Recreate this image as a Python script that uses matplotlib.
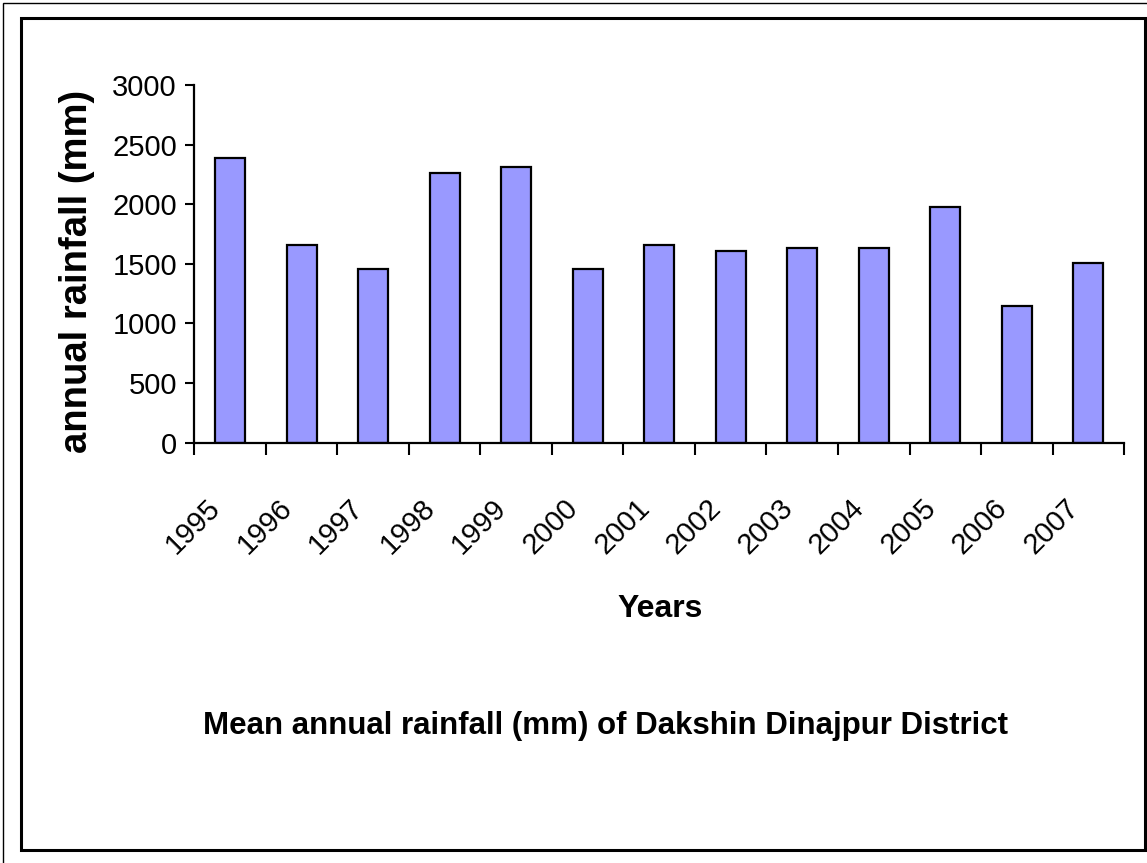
import matplotlib.pyplot as plt
import numpy as np
from matplotlib.patches import Rectangle
from matplotlib.transforms import ScaledTranslation

# Mean annual rainfall, Dakshin Dinajpur
years = ["1995", "1996", "1997", "1998", "1999", "2000", "2001",
         "2002", "2003", "2004", "2005", "2006", "2007"]
rainfall = [2390, 1660, 1460, 2265, 2315, 1460, 1660,
            1610, 1630, 1630, 1975, 1145, 1510]
yticks = [0, 500, 1000, 1500, 2000, 2500, 3000]

font = ["Liberation Sans", "DejaVu Sans"]

fig = plt.figure(figsize=(11.47, 8.63), dpi=100)
ax = fig.add_axes([0.1694, 0.487, 0.8106, 0.4145])

x = np.arange(len(years)) + 0.5
ax.bar(x, rainfall, width=0.42, color="#9999FF", edgecolor="black", linewidth=1.6)

ax.set_xlim(0, len(years))
ax.set_ylim(0, 3000)
ax.spines["top"].set_visible(False)
ax.spines["right"].set_visible(False)
ax.spines["left"].set_linewidth(1.6)
ax.spines["bottom"].set_linewidth(1.6)

# y axis
ax.set_yticks(yticks)
ax.set_yticklabels([str(v) for v in yticks], family=font, fontsize=21)
ax.tick_params(axis="y", direction="out", length=6.5, width=1.5, pad=6)

# x axis: ticks between categories, labels at centres
ax.set_xticks(np.arange(len(years) + 1))
ax.set_xticklabels([])
ax.tick_params(axis="x", which="major", direction="out", length=8.5, width=1.5)
ax.set_xticks(x, minor=True)
ax.set_xticklabels(years, minor=True, family=font, fontsize=21,
                   rotation=45, ha="right", va="center", rotation_mode="anchor")
ax.tick_params(axis="x", which="minor", length=0, pad=44)
off = ScaledTranslation(-14 / 100, 0, fig.dpi_scale_trans)
for lab in ax.get_xticklabels(minor=True):
    lab.set_transform(lab.get_transform() + off)

fig.text(0.0671, 0.686, "annual rainfall (mm)", rotation=90, ha="center", va="center",
         family=font, fontsize=27.5, fontweight="bold")
fig.text(0.5754, 0.2943, "Years", ha="center", va="center",
         family=font, fontsize=23, fontweight="bold")
fig.text(0.5275, 0.1587, "Mean annual rainfall (mm) of Dakshin Dinajpur District",
         ha="center", va="center", family=font, fontsize=22.5, fontweight="bold")

# chart frames
fig.add_artist(Rectangle((0.0026, -0.02), 1.05, 0.9965 + 0.02, transform=fig.transFigure,
                         fill=False, edgecolor="black", linewidth=1.0))
fig.add_artist(Rectangle((0.0183, 0.0151), 0.98, 0.964, transform=fig.transFigure,
                         fill=False, edgecolor="black", linewidth=2.2))

fig.savefig("out.png", dpi=100, facecolor="white")
